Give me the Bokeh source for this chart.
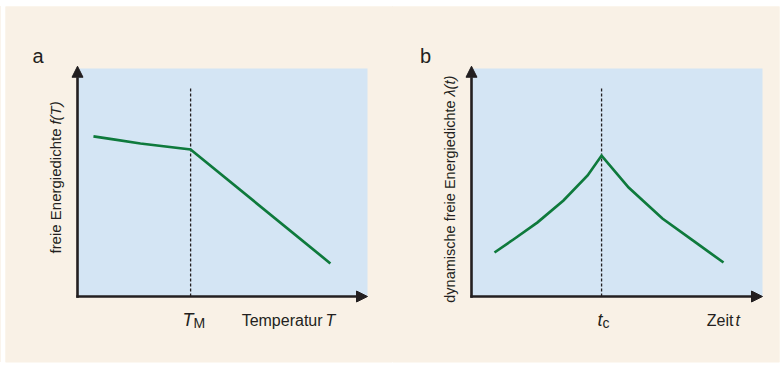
import numpy as np
from bokeh.plotting import figure
from bokeh.models import Range1d, BoxAnnotation, Arrow, NormalHead, Label
from bokeh.layouts import row
from bokeh.embed import file_html
from bokeh.resources import INLINE

# ---- data (axis units: fraction of the drawn axis length) ----
# Panel a: free energy density f(T) vs temperature T
a_T = [0.055, 0.124, 0.217, 0.390, 0.872]
a_f = [0.702, 0.689, 0.671, 0.645, 0.145]
a_TM = 0.390          # melting temperature T_M

# Panel b: dynamic free energy density lambda(t) vs time t
b_t = [0.079, 0.144, 0.227, 0.316, 0.399, 0.447, 0.540, 0.656, 0.770, 0.866]
b_lam = [0.193, 0.250, 0.325, 0.421, 0.531, 0.618, 0.478, 0.342, 0.237, 0.149]
b_tc = 0.447          # critical time t_c

crit_top = 0.917      # top of the dashed marker line

BEIGE = "#f9f1e6"
BLUE = "#d4e5f4"
GREEN = "#0e7a3c"
INK = "#231f20"
FONT = "Liberation Sans"

W, H = 392, 367
Y_RANGE = (-66 / 228, 290 / 228)


def lab(p, x, y, text, size, align="left", italic=False, angle=0.0, baseline="alphabetic", x_offset=0):
    p.add_layout(Label(x=x, y=y, text=text, text_font=FONT, text_font_size=f"{size}px",
                       text_font_style="italic" if italic else "normal",
                       text_color=INK, text_align=align, text_baseline=baseline,
                       angle=angle, x_offset=x_offset))


def panel(xs, ys, xcrit, x_start, x_end, border_left, border_right):
    p = figure(width=W, height=H, output_backend="svg", toolbar_location=None,
               x_axis_location=None, y_axis_location=None,
               min_border_left=border_left, min_border_right=border_right,
               min_border_top=6, min_border_bottom=5,
               x_range=Range1d(x_start, x_end), y_range=Range1d(*Y_RANGE))
    p.grid.visible = False
    p.outline_line_color = None
    p.background_fill_color = BEIGE
    p.border_fill_color = "white"
    p.add_layout(BoxAnnotation(left=0, right=1, bottom=0, top=1, fill_color=BLUE,
                               fill_alpha=1, line_color=None, level="underlay"))
    # dashed marker
    p.line([xcrit, xcrit], [0, crit_top], line_color=INK, line_width=1.3, line_dash="3 2")
    # curve
    p.line(xs, ys, line_color=GREEN, line_width=2.7, line_join="miter")
    # axes with arrows
    p.add_layout(Arrow(x_start=-0.004, y_start=0, x_end=1.0, y_end=0, line_color=INK, line_width=2.6,
                       end=NormalHead(size=11, fill_color=INK, line_color=INK, line_width=1)))
    p.add_layout(Arrow(x_start=0, y_start=-0.005, x_end=0, y_end=1.01, line_color=INK, line_width=2.6,
                       end=NormalHead(size=11, fill_color=INK, line_color=INK, line_width=1)))
    return p


# ---- panel a ----
pa = panel(a_T, a_f, a_TM, (5 - 77) / 290, (392 - 77) / 290, 5, 0)
lab(pa, -0.136, 1.057, "a", 20, align="center")
lab(pa, -0.076, 0.737, "freie Energiedichte", 15, align="right", angle=np.pi / 2, baseline="middle")
lab(pa, -0.076, 0.754, "f(T)", 15, align="left", italic=True, angle=np.pi / 2, baseline="middle")
lab(pa, a_TM, -0.105, "T", 18, align="right", italic=True, x_offset=3)
lab(pa, a_TM, -0.118, "M", 14, align="left", x_offset=3)
lab(pa, 0.845, -0.105, "Temperatur", 16, align="right")
lab(pa, 0.855, -0.105, "T", 16, align="left", italic=True)

# ---- panel b ----
pb = panel(b_t, b_lam, b_tc, (392 - 471) / 291, (779 - 471) / 291, 0, 5)
lab(pb, -0.158, 1.057, "b", 20, align="center")
lab(pb, -0.0756, 0.860, "dynamische freie Energiedichte", 14.5, align="right", angle=np.pi / 2, baseline="middle")
lab(pb, -0.0756, 0.877, "\u03bb(t)", 14.5, align="left", italic=True, angle=np.pi / 2, baseline="middle")
lab(pb, b_tc, -0.105, "t", 18, align="right", italic=True, x_offset=1)
lab(pb, b_tc, -0.118, "c", 14, align="left", x_offset=1)
lab(pb, 0.900, -0.105, "Zeit", 16, align="right")
lab(pb, 0.907, -0.105, "t", 16, align="left", italic=True)

bg = (f"linear-gradient(to bottom, white 0px, white 6px, {BEIGE} 6px, "
      f"{BEIGE} calc(100% - 5px), white calc(100% - 5px), white 100%)")
layout = row(pa, pb, spacing=0, styles={"background": bg})
open("out.html", "w").write(file_html(layout, INLINE))
